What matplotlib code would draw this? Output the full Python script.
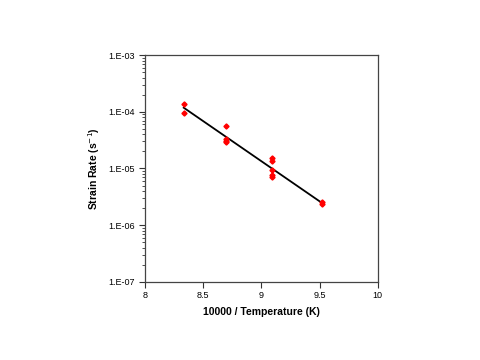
import matplotlib
matplotlib.use("Agg")
import matplotlib.pyplot as plt
from matplotlib.ticker import LogLocator, FixedLocator, NullFormatter
import numpy as np

# Data
inv_temp = [8.333, 8.333, 8.70, 8.70, 8.70, 8.70,
            9.091, 9.091, 9.091, 9.091, 9.091, 9.524, 9.524]
strain_rate = [1.35e-4, 9.6e-5, 5.7e-5, 3.3e-5, 3.0e-5, 2.9e-5,
               1.51e-5, 1.37e-5, 9.4e-6, 7.7e-6, 7.1e-6, 2.6e-6, 2.4e-6]
fit_x = [8.333, 9.524]
fit_y = [1.18e-4, 2.44e-6]

x_ticks = [8, 8.5, 9, 9.5, 10]
x_tick_labels = ["8", "8.5", "9", "9.5", "10"]
y_ticks = [1e-7, 1e-6, 1e-5, 1e-4, 1e-3]
y_tick_labels = ["1.E-07", "1.E-06", "1.E-05", "1.E-04", "1.E-03"]

plt.rcParams['font.family'] = ['Liberation Sans', 'DejaVu Sans']

fig = plt.figure(figsize=(4.8, 3.6), dpi=100)
ax = fig.add_axes([0.302, 0.217, 0.485, 0.630])

ax.plot(fit_x, fit_y, color='black', lw=1.3, zorder=2)
ax.plot(inv_temp, strain_rate, linestyle='none', marker='D', ms=2.6,
        color='#ff0000', mec='#ff0000', zorder=3)

ax.set_yscale('log')
ax.set_xlim(8, 10)
ax.set_ylim(1e-7, 1e-3)
ax.set_xticks(x_ticks)
ax.set_xticklabels(x_tick_labels)
ax.yaxis.set_major_locator(FixedLocator(y_ticks))
ax.set_yticklabels(y_tick_labels)
ax.yaxis.set_minor_locator(LogLocator(base=10, subs=np.arange(2, 10)))
ax.yaxis.set_minor_formatter(NullFormatter())

ax.tick_params(axis='both', which='major', direction='out', labelsize=6.5,
               length=4, width=0.8, color='#333333')
ax.tick_params(axis='y', which='minor', direction='out', length=2, width=0.6,
               color='#333333')
ax.tick_params(axis='x', pad=2.5)
for s in ax.spines.values():
    s.set_linewidth(0.9)
    s.set_color('#444444')

ax.set_xlabel('10000 / Temperature (K)', fontsize=7.5, fontweight='bold', labelpad=5)
ax.set_ylabel('Strain Rate (s$^{-1}$)', fontsize=7.5, fontweight='bold', labelpad=4)

fig.savefig('out.png', dpi=100)
